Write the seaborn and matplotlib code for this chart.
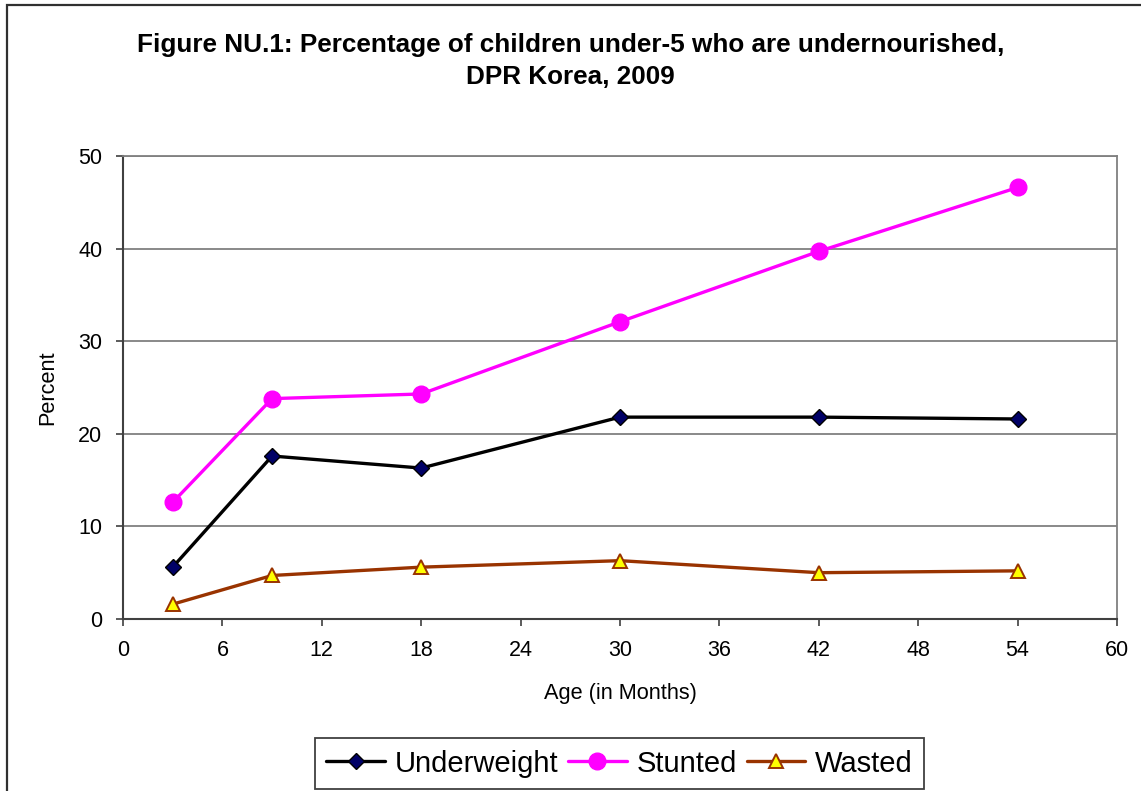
import matplotlib
matplotlib.use("Agg")
import matplotlib.pyplot as plt
from matplotlib.patches import Rectangle
import seaborn as sns
import pandas as pd

# Survey data: percentage of under-5 children by age group (midpoint, months)
age_months = [3, 9, 18, 30, 42, 54]
underweight = [5.6, 17.6, 16.3, 21.8, 21.8, 21.6]
stunted = [12.6, 23.8, 24.3, 32.1, 39.7, 46.6]
wasted = [1.6, 4.7, 5.6, 6.3, 5.0, 5.2]

x_ticks = [0, 6, 12, 18, 24, 30, 36, 42, 48, 54, 60]
y_ticks = [0, 10, 20, 30, 40, 50]

sns.set_theme(style="white")
plt.rcParams["font.family"] = ["Liberation Sans", "DejaVu Sans"]
plt.rcParams["text.color"] = "black"
plt.rcParams["axes.labelcolor"] = "black"
plt.rcParams["xtick.color"] = "black"
plt.rcParams["ytick.color"] = "black"

W, H = 1141, 791
fig = plt.figure(figsize=(W / 100, H / 100), dpi=100)
fig.patch.set_facecolor("white")
ax = fig.add_axes([123 / W, 1 - 619 / H, (1117 - 123) / W, (619 - 156) / H])

df = pd.DataFrame({"age": age_months, "Underweight": underweight,
                   "Stunted": stunted, "Wasted": wasted})

series = [
    ("Underweight", dict(color="black", marker="D", markersize=8,
                         markerfacecolor="#000066", markeredgecolor="black",
                         markeredgewidth=1.0)),
    ("Stunted", dict(color="#FF00FF", marker="o", markersize=12,
                     markerfacecolor="#FF00FF", markeredgecolor="#FF00FF",
                     markeredgewidth=1.0)),
    ("Wasted", dict(color="#993300", marker="^", markersize=10,
                    markerfacecolor="#FFFF00", markeredgecolor="#993300",
                    markeredgewidth=1.4)),
]

for name, style in series:
    sns.lineplot(data=df, x="age", y=name, ax=ax, label=name,
                 linewidth=2.4, zorder=3, **style)

ax.set_xlim(0, 60)
ax.set_ylim(0, 50)
ax.set_xticks(x_ticks)
ax.set_yticks(y_ticks)
ax.set_xticklabels([str(t) for t in x_ticks], fontsize=15.5)
ax.set_yticklabels([str(t) for t in y_ticks], fontsize=15.5)
ax.tick_params(axis="both", direction="out", length=5, width=1.2,
               color="#404040", pad=10, labelcolor="black")
ax.tick_params(axis="x", bottom=True)
ax.tick_params(axis="y", left=True)

ax.yaxis.grid(True, color="#808080", linewidth=1.3)
ax.xaxis.grid(False)
ax.set_axisbelow(True)

for side in ["left", "bottom"]:
    ax.spines[side].set_color("#404040")
    ax.spines[side].set_linewidth(1.5)
for side in ["top", "right"]:
    ax.spines[side].set_color("#808080")
    ax.spines[side].set_linewidth(1.3)

ax.set_xlabel("Age (in Months)", fontsize=15.7, labelpad=16)
ax.set_ylabel("Percent", fontsize=15.7, labelpad=14)

fig.text(0.5, 1 - 45 / H,
         "Figure NU.1: Percentage of children under-5 who are undernourished,",
         ha="center", va="center", fontsize=18.8, fontweight="bold")
fig.text(0.5, 1 - 77 / H, "DPR Korea, 2009",
         ha="center", va="center", fontsize=18.8, fontweight="bold")

leg = ax.legend(loc="center", bbox_to_anchor=(619.5 / W, 1 - 763.5 / H),
                bbox_transform=fig.transFigure, ncol=3, fontsize=21,
                frameon=True, fancybox=False, framealpha=1,
                handlelength=2.0, handletextpad=0.33, columnspacing=0.35,
                borderpad=0.4)
leg.get_frame().set_edgecolor("#404040")
leg.get_frame().set_linewidth(1.3)

# outer chart border
fig.patches.append(Rectangle((7 / W, -0.1), 1.5, 1 - 5 / H + 0.1,
                             transform=fig.transFigure, fill=False,
                             edgecolor="#303030", linewidth=1.6))

fig.savefig("out.png", dpi=100)
